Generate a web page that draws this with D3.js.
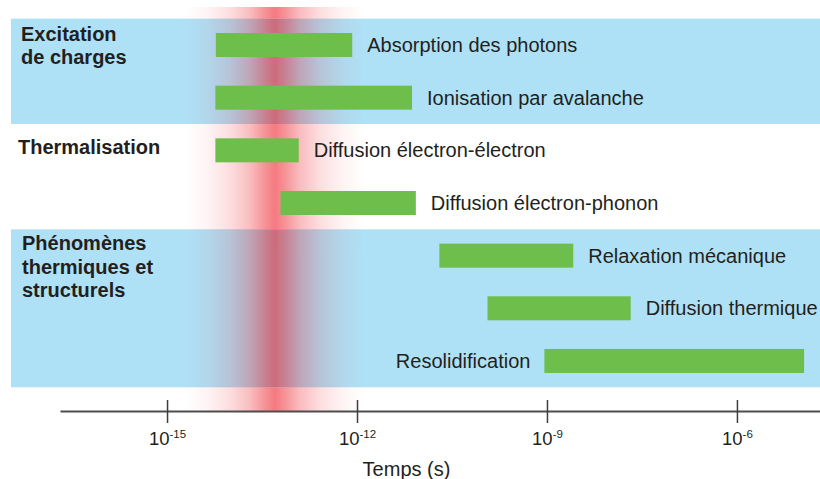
<!DOCTYPE html>
<html><head><meta charset="utf-8">
<script src="https://cdn.jsdelivr.net/npm/d3@7/dist/d3.min.js"></script>
<style>body{margin:0;background:#fff}svg{display:block;font-family:"Liberation Sans",Arial,sans-serif}</style>
</head><body><svg id="c" width="820" height="479"></svg>
<script>
// ---- data ----
const categories = ["Absorption des photons","Ionisation par avalanche","Diffusion électron-électron","Diffusion électron-phonon","Relaxation mécanique","Diffusion thermique","Resolidification"];
const startTimes = [5.9e-15, 5.8e-15, 5.8e-15, 6.2e-14, 2.0e-11, 1.15e-10, 9.1e-10];
const endTimes   = [8.4e-13, 7.4e-12, 1.2e-13, 8.5e-12, 2.6e-9, 2.1e-8, 1.15e-5];
const labelSide  = ["right","right","right","right","right","right","left"];
const groupNames = [["Excitation","de charges"],["Thermalisation"],["Phénomènes","thermiques et","structurels"]];
const groupFirst = [0, 2, 4];
const groupLast  = [1, 3, 6];
const groupShaded = [true, false, true];
const tickValues = [1e-15, 1e-12, 1e-9, 1e-6];
const tickExponents = ["-15","-12","-9","-6"];
const axisDomain = [2.04e-17, 2.05e-5];
const pulseRange = [1.9e-15, 1.35e-12];   // laser pulse (red band) extent
const axisTitle = "Temps (s)";

// ---- layout ----
const svg = d3.select("#c");
const W = 820;
const x = d3.scaleLog().domain(axisDomain).range([60, 820]);
const y = d3.scalePoint().domain(d3.range(categories.length)).range([18.67, 387.3]).padding(0.5);
const step = y.step();
const barH = 24;
const axisY = 411;
const fs = 20;

const defs = svg.append("defs");
function grad(id, color, stops){
  const g = defs.append("linearGradient").attr("id", id).attr("x1","0").attr("x2","1").attr("y1","0").attr("y2","0");
  stops.forEach(s => g.append("stop").attr("offset", s[0]).attr("stop-color", color).attr("stop-opacity", s[1]));
}
const profile = [[0,0],[0.12,0.08],[0.25,0.25],[0.36,0.5],[0.44,0.8],[0.5,1],[0.56,0.8],[0.64,0.5],[0.75,0.25],[0.88,0.08],[1,0]];
grad("redW", "#f47a80", profile);
grad("redB", "#cd6b7b", profile);

const px0 = x(pulseRange[0]), px1 = x(pulseRange[1]);

// red pulse over white
svg.append("rect").attr("x", px0).attr("width", px1 - px0).attr("y", 7).attr("height", axisY - 7).attr("fill", "url(#redW)");

// group bands
groupNames.forEach((g, i) => {
  if (!groupShaded[i]) return;
  const y0 = y(groupFirst[i]) - step/2, y1 = y(groupLast[i]) + step/2;
  svg.append("rect").attr("x", 11).attr("width", W - 11).attr("y", y0).attr("height", y1 - y0).attr("fill", "#afe1f6");
  svg.append("rect").attr("x", px0).attr("width", px1 - px0).attr("y", y0).attr("height", y1 - y0).attr("fill", "url(#redB)");
});

// bars
svg.selectAll("rect.bar").data(categories).join("rect").attr("class","bar")
  .attr("x", (d,i) => x(startTimes[i]))
  .attr("width", (d,i) => x(endTimes[i]) - x(startTimes[i]))
  .attr("y", (d,i) => y(i) - barH/2).attr("height", barH)
  .attr("fill", "#6dbe4b");

// bar labels
svg.selectAll("text.lab").data(categories).join("text").attr("class","lab")
  .attr("x", (d,i) => labelSide[i] === "right" ? x(endTimes[i]) + 15 : x(startTimes[i]) - 14)
  .attr("y", (d,i) => y(i)).attr("dy", "0.35em")
  .attr("text-anchor", (d,i) => labelSide[i] === "right" ? "start" : "end")
  .attr("font-size", fs).attr("fill", "#231f20").text(d => d);

// group labels
const groupX = [21, 18, 22];
const groupDy = [22, 30, 21];
groupNames.forEach((g, i) => {
  const t = svg.append("text").attr("font-size", fs).attr("font-weight", "bold").attr("fill", "#231f20")
    .attr("x", groupX[i]).attr("y", y(groupFirst[i]) - step/2 + groupDy[i]);
  g.forEach((line, k) => t.append("tspan").attr("x", groupX[i]).attr("dy", k === 0 ? 0 : 23.3).text(line));
});

// axis
const ax = svg.append("g").attr("transform", `translate(0,${axisY})`)
  .call(d3.axisBottom(x).tickValues(tickValues).tickSizeOuter(0).tickSizeInner(12).tickFormat(() => ""));
ax.select(".domain").attr("stroke", "#4d4d4d").attr("stroke-width", 2);
ax.selectAll(".tick line").attr("y1", -11).attr("y2", 12).attr("stroke", "#3d3d3d").attr("stroke-width", 1.5);
ax.selectAll(".tick text").remove();
ax.selectAll(".tick").each(function(d, i){
  const t = d3.select(this).append("text").attr("y", 34).attr("text-anchor", "middle")
    .attr("fill", "#231f20").attr("font-size", 18.5).attr("font-family", '"Liberation Sans",Arial,sans-serif');
  t.append("tspan").text("10");
  t.append("tspan").attr("font-size", 11.5).attr("dy", -7).text(tickExponents[i]);
});
svg.append("text").attr("x", 406.5).attr("y", 476).attr("text-anchor", "middle")
  .attr("font-size", fs).attr("fill", "#231f20").text(axisTitle);
</script></body></html>
